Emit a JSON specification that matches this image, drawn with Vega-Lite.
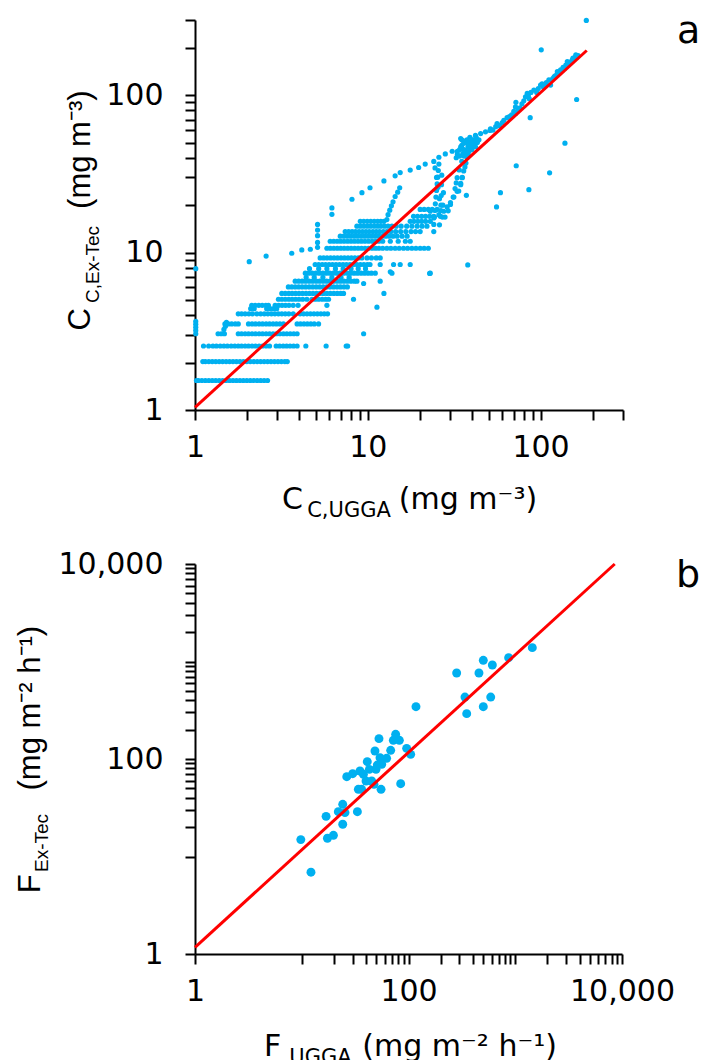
{
"$schema": "https://vega.github.io/schema/vega-lite/v6.json",
"padding": {"left": 14, "top": 5, "right": 0, "bottom": 0},
"bounds": "flush",
"spacing": 154,
"config": {
  "view": {"stroke": null},
  "font": "DejaVu Sans",
  "axis": {"labelFont": "DejaVu Sans", "labelFontSize": 30, "labelColor": "#000", "labelOverlap": false, "labelFlush": false, "tickSize": 10, "tickWidth": 2, "tickColor": "#000", "domainColor": "#000", "domainWidth": 2, "grid": false, "titleFontWeight": "normal", "titleColor": "#000", "titleAlign": "center", "titleBaseline": "alphabetic"},
  "axisX": {"labelPadding": 12, "titleFont": "DejaVu Sans", "titleAngle": 0},
  "axisY": {"labelPadding": 22, "titleFont": "Liberation Sans", "titleAngle": 270}
},
"datasets": {
"a": [
{"x":1.02,"y":1.54},{"x":1.047,"y":1.54},{"x":1.096,"y":1.54},{"x":1.148,"y":1.54},{"x":1.202,"y":1.54},{"x":1.259,"y":1.54},{"x":1.318,"y":1.54},{"x":1.38,"y":1.54},{"x":1.445,"y":1.54},{"x":1.514,"y":1.54},{"x":1.585,"y":1.54},{"x":1.66,"y":1.54},{"x":1.738,"y":1.54},{"x":1.82,"y":1.54},{"x":1.905,"y":1.54},{"x":1.995,"y":1.54},{"x":2.089,"y":1.54},{"x":2.188,"y":1.54},{"x":2.291,"y":1.54},{"x":2.399,"y":1.54},{"x":2.512,"y":1.54},{"x":2.63,"y":1.54},
{"x":1.11,"y":2.03},{"x":1.148,"y":2.03},{"x":1.202,"y":2.03},{"x":1.259,"y":2.03},{"x":1.318,"y":2.03},{"x":1.38,"y":2.03},{"x":1.445,"y":2.03},{"x":1.514,"y":2.03},{"x":1.585,"y":2.03},{"x":1.66,"y":2.03},{"x":1.738,"y":2.03},{"x":1.82,"y":2.03},{"x":1.905,"y":2.03},{"x":1.995,"y":2.03},{"x":2.089,"y":2.03},{"x":2.188,"y":2.03},{"x":2.291,"y":2.03},{"x":2.399,"y":2.03},{"x":2.512,"y":2.03},{"x":2.63,"y":2.03},{"x":2.754,"y":2.03},{"x":2.884,"y":2.03},{"x":3.02,"y":2.03},{"x":3.162,"y":2.03},{"x":3.311,"y":2.03},{"x":3.42,"y":2.03},
{"x":1.12,"y":2.55},{"x":1.2,"y":2.55},{"x":1.27,"y":2.55},{"x":1.33,"y":2.55},{"x":1.4,"y":2.55},{"x":1.47,"y":2.55},{"x":1.54,"y":2.55},{"x":1.62,"y":2.55},{"x":1.7,"y":2.55},{"x":1.78,"y":2.55},{"x":1.86,"y":2.55},{"x":1.95,"y":2.55},{"x":2.04,"y":2.55},{"x":2.14,"y":2.55},{"x":2.24,"y":2.55},{"x":2.35,"y":2.55},{"x":2.46,"y":2.55},{"x":2.58,"y":2.55},{"x":2.7,"y":2.55},{"x":2.95,"y":2.55},{"x":3.09,"y":2.55},{"x":3.24,"y":2.55},{"x":3.39,"y":2.55},{"x":3.55,"y":2.55},{"x":3.72,"y":2.55},{"x":3.9,"y":2.55},{"x":4.38,"y":2.55},{"x":5.74,"y":2.55},{"x":7.5,"y":2.55},{"x":7.65,"y":2.55},
{"x":1.36,"y":3.05},{"x":1.42,"y":3.05},{"x":1.48,"y":3.05},{"x":1.78,"y":3.05},{"x":1.86,"y":3.05},{"x":1.95,"y":3.05},{"x":2.04,"y":3.05},{"x":2.14,"y":3.05},{"x":2.24,"y":3.05},{"x":2.35,"y":3.05},{"x":2.46,"y":3.05},{"x":2.58,"y":3.05},{"x":2.7,"y":3.05},{"x":2.83,"y":3.05},{"x":2.96,"y":3.05},{"x":3.1,"y":3.05},{"x":3.25,"y":3.05},{"x":3.4,"y":3.05},{"x":3.56,"y":3.05},{"x":3.73,"y":3.05},{"x":3.9,"y":3.05},{"x":9.46,"y":3.05},
{"x":1.47,"y":3.25},{"x":1.5,"y":3.4},{"x":1.52,"y":3.6},{"x":1.01,"y":3.05},{"x":1.01,"y":3.2},{"x":1.01,"y":3.35},{"x":1.01,"y":3.5},{"x":1.01,"y":3.65},{"x":1.01,"y":7.9},
{"x":1.49,"y":3.52},{"x":1.56,"y":3.52},{"x":1.63,"y":3.52},{"x":1.71,"y":3.52},{"x":1.78,"y":3.52},{"x":2.04,"y":3.52},{"x":2.14,"y":3.52},{"x":2.24,"y":3.52},{"x":2.35,"y":3.52},{"x":2.46,"y":3.52},{"x":2.58,"y":3.52},{"x":2.7,"y":3.52},{"x":2.83,"y":3.52},{"x":2.96,"y":3.52},{"x":3.1,"y":3.52},{"x":3.25,"y":3.52},{"x":3.9,"y":3.52},{"x":4.08,"y":3.52},{"x":4.27,"y":3.52},{"x":4.47,"y":3.52},{"x":4.68,"y":3.52},{"x":4.9,"y":3.52},{"x":5.19,"y":3.52},
{"x":1.78,"y":4.08},{"x":1.86,"y":4.08},{"x":1.95,"y":4.08},{"x":2.05,"y":4.08},{"x":2.15,"y":4.08},{"x":2.28,"y":4.08},{"x":2.4,"y":4.08},{"x":2.52,"y":4.08},{"x":2.64,"y":4.08},{"x":2.77,"y":4.08},{"x":2.9,"y":4.08},{"x":3.04,"y":4.08},{"x":3.18,"y":4.08},{"x":3.33,"y":4.08},{"x":3.49,"y":4.08},{"x":3.7,"y":4.08},{"x":4.06,"y":4.08},{"x":4.25,"y":4.08},{"x":4.45,"y":4.08},{"x":4.66,"y":4.08},{"x":4.88,"y":4.08},{"x":5.11,"y":4.08},{"x":5.35,"y":4.08},{"x":5.6,"y":4.08},{"x":5.85,"y":4.08},
{"x":2.1,"y":4.4},{"x":2.2,"y":4.4},{"x":2.6,"y":4.4},{"x":2.72,"y":4.4},{"x":2.85,"y":4.4},{"x":2.97,"y":4.4},
{"x":2.13,"y":4.62},{"x":2.23,"y":4.62},{"x":2.34,"y":4.62},{"x":2.45,"y":4.62},{"x":2.57,"y":4.62},{"x":2.66,"y":4.62},{"x":2.91,"y":4.62},{"x":3.05,"y":4.62},{"x":3.19,"y":4.62},{"x":3.34,"y":4.62},{"x":3.5,"y":4.62},{"x":3.7,"y":4.62},{"x":3.95,"y":4.62},{"x":5.8,"y":4.62},{"x":11.3,"y":4.5},
{"x":3.04,"y":5.05},{"x":3.18,"y":5.05},{"x":3.33,"y":5.05},{"x":3.49,"y":5.05},{"x":3.65,"y":5.05},{"x":3.82,"y":5.05},{"x":4.0,"y":5.05},{"x":4.2,"y":5.05},{"x":4.44,"y":5.05},{"x":4.75,"y":5.05},{"x":4.97,"y":5.05},{"x":5.2,"y":5.05},{"x":5.45,"y":5.05},{"x":5.7,"y":5.05},{"x":5.93,"y":5.05},{"x":8.27,"y":5.05},
{"x":3.18,"y":5.5},{"x":3.33,"y":5.5},{"x":3.49,"y":5.5},{"x":3.65,"y":5.5},{"x":3.82,"y":5.5},{"x":4.0,"y":5.5},{"x":4.19,"y":5.5},{"x":4.39,"y":5.5},{"x":4.6,"y":5.5},{"x":4.82,"y":5.5},{"x":5.05,"y":5.5},{"x":5.29,"y":5.5},{"x":5.54,"y":5.5},{"x":5.8,"y":5.5},{"x":6.07,"y":5.5},{"x":6.36,"y":5.5},{"x":6.66,"y":5.5},{"x":6.97,"y":5.5},{"x":7.24,"y":5.5},{"x":12.4,"y":5.5},
{"x":3.47,"y":6.05},{"x":3.63,"y":6.05},{"x":3.8,"y":6.05},{"x":3.98,"y":6.05},{"x":4.17,"y":6.05},{"x":4.37,"y":6.05},{"x":4.58,"y":6.05},{"x":4.8,"y":6.05},{"x":5.03,"y":6.05},{"x":5.27,"y":6.05},{"x":5.52,"y":6.05},{"x":5.78,"y":6.05},{"x":6.05,"y":6.05},{"x":6.34,"y":6.05},{"x":6.64,"y":6.05},{"x":6.95,"y":6.05},{"x":7.28,"y":6.05},{"x":7.62,"y":6.05},
{"x":3.8,"y":6.58},{"x":3.98,"y":6.58},{"x":4.17,"y":6.58},{"x":4.37,"y":6.58},{"x":4.58,"y":6.58},{"x":4.8,"y":6.58},{"x":5.03,"y":6.58},{"x":5.27,"y":6.58},{"x":5.52,"y":6.58},{"x":5.78,"y":6.58},{"x":6.05,"y":6.58},{"x":6.34,"y":6.58},{"x":6.64,"y":6.58},{"x":6.95,"y":6.58},{"x":7.28,"y":6.58},{"x":7.62,"y":6.58},{"x":7.98,"y":6.58},{"x":8.36,"y":6.58},{"x":8.65,"y":6.58},{"x":11.8,"y":6.58},
{"x":4.4,"y":6.95},{"x":4.9,"y":6.95},{"x":5.5,"y":6.95},{"x":6.2,"y":6.95},{"x":7.0,"y":6.95},{"x":7.8,"y":6.95},
{"x":4.35,"y":7.4},{"x":4.55,"y":7.4},{"x":4.77,"y":7.4},{"x":5.0,"y":7.4},{"x":5.24,"y":7.4},{"x":5.49,"y":7.4},{"x":5.75,"y":7.4},{"x":6.02,"y":7.4},{"x":6.31,"y":7.4},{"x":6.61,"y":7.4},{"x":6.92,"y":7.4},{"x":7.25,"y":7.4},{"x":7.6,"y":7.4},{"x":7.96,"y":7.4},{"x":8.34,"y":7.4},{"x":8.73,"y":7.4},{"x":9.15,"y":7.4},{"x":9.58,"y":7.4},{"x":10.04,"y":7.4},{"x":10.5,"y":7.4},{"x":11.05,"y":7.4},{"x":13.8,"y":7.4},{"x":23.0,"y":7.4},
{"x":4.6,"y":7.9},{"x":5.2,"y":7.9},{"x":5.8,"y":7.9},{"x":6.5,"y":7.9},{"x":7.2,"y":7.9},{"x":8.0,"y":7.9},{"x":8.8,"y":7.9},{"x":9.7,"y":7.9},
{"x":4.96,"y":8.4},{"x":5.2,"y":8.4},{"x":5.45,"y":8.4},{"x":5.7,"y":8.4},{"x":5.97,"y":8.4},{"x":6.25,"y":8.4},{"x":6.55,"y":8.4},{"x":6.86,"y":8.4},{"x":7.19,"y":8.4},{"x":7.53,"y":8.4},{"x":7.89,"y":8.4},{"x":8.26,"y":8.4},{"x":8.65,"y":8.4},{"x":9.06,"y":8.4},{"x":9.49,"y":8.4},{"x":9.94,"y":8.4},{"x":10.3,"y":8.4},{"x":11.8,"y":8.4},{"x":14.1,"y":8.4},{"x":15.4,"y":8.4},{"x":17.6,"y":8.4},{"x":37.9,"y":8.34},
{"x":5.3,"y":9.25},{"x":5.55,"y":9.25},{"x":5.81,"y":9.25},{"x":6.09,"y":9.25},{"x":6.38,"y":9.25},{"x":6.68,"y":9.25},{"x":7.0,"y":9.25},{"x":7.33,"y":9.25},{"x":7.68,"y":9.25},{"x":8.04,"y":9.25},{"x":8.42,"y":9.25},{"x":8.82,"y":9.25},{"x":9.24,"y":9.25},{"x":9.9,"y":9.25},{"x":10.5,"y":9.25},{"x":11.2,"y":9.25},{"x":11.8,"y":9.25},
{"x":5.8,"y":10.65},{"x":6.07,"y":10.65},{"x":6.36,"y":10.65},{"x":6.66,"y":10.65},{"x":6.97,"y":10.65},{"x":7.3,"y":10.65},{"x":7.65,"y":10.65},{"x":8.01,"y":10.65},{"x":8.39,"y":10.65},{"x":8.79,"y":10.65},{"x":9.2,"y":10.65},{"x":9.64,"y":10.65},{"x":10.1,"y":10.65},{"x":10.6,"y":10.65},{"x":11.1,"y":10.65},{"x":11.6,"y":10.65},{"x":12.2,"y":10.65},{"x":12.9,"y":10.65},{"x":13.6,"y":10.65},{"x":14.4,"y":10.65},{"x":15.2,"y":10.65},{"x":16.1,"y":10.65},{"x":17.0,"y":10.65},{"x":18.0,"y":10.65},{"x":19.0,"y":10.65},{"x":20.1,"y":10.65},{"x":21.2,"y":10.65},{"x":22.4,"y":10.65},
{"x":6.06,"y":11.8},{"x":6.35,"y":11.8},{"x":6.65,"y":11.8},{"x":6.96,"y":11.8},{"x":7.29,"y":11.8},{"x":7.64,"y":11.8},{"x":8.0,"y":11.8},{"x":8.38,"y":11.8},{"x":8.78,"y":11.8},{"x":9.19,"y":11.8},{"x":9.63,"y":11.8},{"x":10.1,"y":11.8},{"x":10.6,"y":11.8},{"x":11.1,"y":11.8},{"x":11.6,"y":11.8},{"x":12.2,"y":11.8},{"x":13.5,"y":11.8},{"x":15.0,"y":11.8},{"x":16.5,"y":11.8},{"x":17.6,"y":11.8},
{"x":6.93,"y":12.7},{"x":7.26,"y":12.7},{"x":7.6,"y":12.7},{"x":7.96,"y":12.7},{"x":8.34,"y":12.7},{"x":8.73,"y":12.7},{"x":9.15,"y":12.7},{"x":9.58,"y":12.7},{"x":10.03,"y":12.7},{"x":10.5,"y":12.7},{"x":11.0,"y":12.7},{"x":11.5,"y":12.7},{"x":12.1,"y":12.7},{"x":12.7,"y":12.7},{"x":13.3,"y":12.7},{"x":14.0,"y":12.7},{"x":14.8,"y":12.7},{"x":15.8,"y":12.7},{"x":16.9,"y":12.7},
{"x":7.4,"y":13.6},{"x":7.75,"y":13.6},{"x":8.12,"y":13.6},{"x":8.5,"y":13.6},{"x":8.9,"y":13.6},{"x":9.32,"y":13.6},{"x":9.76,"y":13.6},{"x":10.2,"y":13.6},{"x":10.7,"y":13.6},{"x":11.2,"y":13.6},{"x":11.7,"y":13.6},{"x":12.3,"y":13.6},{"x":12.9,"y":13.6},{"x":13.6,"y":13.6},{"x":14.5,"y":13.6},{"x":15.5,"y":13.6},{"x":16.6,"y":13.6},{"x":17.8,"y":13.6},{"x":18.9,"y":13.6},{"x":20.1,"y":13.6},
{"x":8.65,"y":14.7},{"x":9.06,"y":14.7},{"x":9.49,"y":14.7},{"x":9.94,"y":14.7},{"x":10.4,"y":14.7},{"x":10.9,"y":14.7},{"x":11.4,"y":14.7},{"x":11.9,"y":14.7},{"x":12.5,"y":14.7},{"x":13.1,"y":14.7},{"x":13.8,"y":14.7},{"x":14.6,"y":14.7},{"x":15.6,"y":14.7},{"x":16.8,"y":14.7},{"x":18.0,"y":14.7},{"x":19.3,"y":14.7},{"x":20.6,"y":14.7},{"x":22.0,"y":14.7},
{"x":9.05,"y":15.8},{"x":9.48,"y":15.8},{"x":9.93,"y":15.8},{"x":10.4,"y":15.8},{"x":10.9,"y":15.8},{"x":11.4,"y":15.8},{"x":11.9,"y":15.8},{"x":12.4,"y":15.8},{"x":17.6,"y":15.8},{"x":18.5,"y":15.8},{"x":19.5,"y":15.8},{"x":20.5,"y":15.8},{"x":21.6,"y":15.8},{"x":23.0,"y":15.8},
{"x":18.4,"y":17.0},{"x":19.4,"y":17.0},{"x":20.5,"y":17.0},{"x":21.6,"y":17.0},{"x":22.8,"y":17.0},{"x":24.1,"y":17.0},
{"x":20.1,"y":18.8},{"x":21.2,"y":18.8},{"x":22.4,"y":18.8},{"x":23.6,"y":18.8},{"x":25.2,"y":18.8},
{"x":5.12,"y":10.8},{"x":5.12,"y":11.6},{"x":5.12,"y":12.8},{"x":5.12,"y":13.9},{"x":5.12,"y":15.1},{"x":6.2,"y":17.5},{"x":6.2,"y":19.2},
{"x":3.63,"y":9.9},{"x":4.15,"y":10.4},{"x":4.65,"y":10.5},{"x":2.06,"y":8.75},{"x":2.58,"y":9.5},
{"x":12.9,"y":16.2},{"x":13.1,"y":17.4},{"x":13.4,"y":18.6},{"x":13.7,"y":19.8},{"x":14.0,"y":21.0},{"x":14.4,"y":22.7},{"x":14.9,"y":24.2},{"x":15.3,"y":25.8},
{"x":24.1,"y":15.1},{"x":24.3,"y":16.8},{"x":24.5,"y":18.5},{"x":24.6,"y":20.4},{"x":24.8,"y":22.5},{"x":25.0,"y":24.8},{"x":25.2,"y":27.3},{"x":25.4,"y":30.1},{"x":25.6,"y":33.2},{"x":25.8,"y":36.5},{"x":26.3,"y":17},{"x":26.5,"y":20},{"x":26.6,"y":23},{"x":26.7,"y":27},{"x":26.8,"y":31},
{"x":24.5,"y":34.5},{"x":25.0,"y":30},{"x":25.5,"y":26},{"x":26.0,"y":22},{"x":26.5,"y":18.5},{"x":27.0,"y":16.8},{"x":27.2,"y":20},{"x":27.4,"y":24},
{"x":24.1,"y":13.6},{"x":26.0,"y":15.0},{"x":28.0,"y":16.8},{"x":29.2,"y":18.4},{"x":30.1,"y":20.2},{"x":31.2,"y":22.5},{"x":32.0,"y":25.5},{"x":32.5,"y":27.7},{"x":32.9,"y":29.9},{"x":33.8,"y":33.5},{"x":35.0,"y":38},{"x":36.7,"y":44.4},
{"x":37.6,"y":40.2},{"x":36.5,"y":35},{"x":35.2,"y":29.9},{"x":34.5,"y":27},{"x":32.9,"y":24.5},{"x":31.5,"y":22.5},{"x":30.1,"y":20.8},{"x":28.8,"y":19.5},{"x":27.5,"y":18.3},{"x":25.8,"y":17.4},{"x":24.1,"y":16.6},
{"x":33.6,"y":24.6},{"x":34.5,"y":27.5},{"x":35.2,"y":30},{"x":35.9,"y":33},{"x":37.0,"y":37},{"x":38.2,"y":41.5},{"x":39.3,"y":46.6},
{"x":33,"y":42},{"x":34,"y":45},{"x":35,"y":48},{"x":36,"y":51},{"x":34.5,"y":53},{"x":37,"y":44},{"x":38,"y":47},{"x":39,"y":50},{"x":40,"y":52},{"x":41,"y":49},{"x":42,"y":47},{"x":36,"y":41},{"x":38,"y":43},{"x":40,"y":45},{"x":43,"y":50},{"x":35,"y":46},{"x":37,"y":50},{"x":39,"y":54},{"x":42,"y":55.5},{"x":45,"y":57},{"x":48,"y":58.5},{"x":51,"y":59.7},
{"x":32.5,"y":40},{"x":34,"y":41},{"x":35.5,"y":42.5},{"x":37,"y":43},{"x":38.5,"y":44},{"x":40,"y":46},{"x":41.5,"y":48},{"x":43,"y":50.5},{"x":44,"y":52},{"x":33,"y":44},{"x":34.5,"y":47},{"x":36,"y":49.5},{"x":37.5,"y":52},{"x":39,"y":48},{"x":41,"y":52},{"x":42.5,"y":53.5},{"x":36,"y":45},{"x":38,"y":50},{"x":40,"y":49},{"x":35,"y":52},
{"x":8.1,"y":21.8},{"x":9.25,"y":24},{"x":10.3,"y":25.8},{"x":12.4,"y":28.5},{"x":14.4,"y":30.7},{"x":15.4,"y":32.2},{"x":17.6,"y":33.4},{"x":19.7,"y":34.7},{"x":21.5,"y":36.5},{"x":24.1,"y":37.9},{"x":25.8,"y":40.3},{"x":28.1,"y":42.3},{"x":30.8,"y":44},
{"x":22.8,"y":7.37},{"x":37.2,"y":23.1},{"x":55.6,"y":19.5},{"x":58.6,"y":24},{"x":72.3,"y":35.6},{"x":85.6,"y":25.1},{"x":112.8,"y":32.1},{"x":138.4,"y":49.5},{"x":161.7,"y":93.8},{"x":87.1,"y":71.9},{"x":23,"y":18.3},{"x":100.9,"y":194},{"x":184,"y":298},{"x":13.5,"y":7.55},{"x":9.46,"y":6.36},
{"x":51.3,"y":61.1},{"x":55,"y":63},{"x":58,"y":64},{"x":61.3,"y":69.2},{"x":64,"y":72},{"x":68,"y":75},{"x":71.6,"y":76.4},{"x":71.6,"y":84.2},{"x":72,"y":90},{"x":74,"y":80},{"x":78,"y":88},{"x":81.8,"y":97.5},{"x":83.7,"y":102.5},{"x":86,"y":95},{"x":91.5,"y":107.7},{"x":95,"y":104},{"x":100,"y":115.9},{"x":104,"y":112},{"x":108,"y":120},{"x":111.7,"y":124.8},{"x":114.3,"y":115.9},{"x":118,"y":128},{"x":122,"y":133},{"x":125,"y":141},{"x":130.6,"y":144.6},{"x":135,"y":150},{"x":138,"y":148},{"x":142.8,"y":163.4},{"x":146,"y":158},{"x":152.7,"y":167.6},{"x":156,"y":170},{"x":159.6,"y":176},{"x":162,"y":174},
{"x":53,"y":60},{"x":56,"y":66},{"x":60,"y":67},{"x":66,"y":73},{"x":70,"y":79},{"x":76,"y":83},{"x":80,"y":92},{"x":85,"y":99},{"x":88,"y":104},{"x":97,"y":110},{"x":102,"y":118},{"x":106,"y":116},{"x":116,"y":125},{"x":120,"y":131},{"x":128,"y":139},{"x":133,"y":143},{"x":140,"y":155},{"x":148,"y":162},{"x":154,"y":172},{"x":160,"y":180},{"x":165,"y":178}
],
"aline": [{"x":1,"y":1.04},{"x":185,"y":192}],
"b": [
{"x":9.8,"y":14.9},{"x":12.2,"y":6.9},{"x":16.9,"y":25.8},{"x":17.4,"y":15.4},{"x":19.8,"y":16.5},{"x":22.0,"y":28.8},{"x":24.2,"y":34.3},{"x":24.2,"y":21.4},{"x":25.4,"y":28.2},{"x":26.4,"y":65.9},{"x":30.0,"y":70.7},{"x":33.2,"y":28.8},{"x":35.1,"y":75.3},{"x":36.4,"y":48.9},{"x":37.8,"y":69.6},{"x":40.0,"y":59.5},{"x":41.1,"y":93.9},{"x":43.0,"y":78.3},{"x":47.5,"y":55},{"x":48.5,"y":120.8},{"x":49.6,"y":78.3},{"x":52.9,"y":161.7},{"x":54.1,"y":103.2},{"x":55.3,"y":48.9},{"x":56.1,"y":88.2},{"x":62.4,"y":101.6},{"x":68.1,"y":122.7},{"x":72.1,"y":155.4},{"x":75.8,"y":179},{"x":82.1,"y":155.4},{"x":84.5,"y":55.8},{"x":96.1,"y":128.6},{"x":104.8,"y":111.6},{"x":117.5,"y":344},{"x":282.6,"y":762},{"x":338,"y":432},{"x":351,"y":292},{"x":457,"y":762},{"x":502,"y":1028},{"x":502,"y":344},{"x":589,"y":432},{"x":610,"y":920},{"x":867,"y":1094},{"x":1445,"y":1387},{"x":33.9,"y":48.9},{"x":45.2,"y":59.5},{"x":51,"y":86.7}
],
"bline": [{"x":1,"y":1.17},{"x":8550,"y":10000}]
},
"vconcat": [
{
  "width": 428, "height": 390,
  "title": {"text": "a", "orient": "top", "anchor": "end", "frame": "group", "align": "left", "baseline": "alphabetic", "offset": 0, "dx": 54, "dy": 76, "fontSize": 38, "font": "DejaVu Sans", "fontWeight": "normal", "color": "#000"},
  "layer": [
    {
      "data": {"name": "a"},
      "mark": {"type": "circle", "size": 27, "color": "#00B0F0", "opacity": 1},
      "encoding": {
        "x": {"field": "x", "type": "quantitative", "scale": {"type": "log", "domain": [1, 300], "nice": false},
              "axis": {"orient": "bottom", "values": [1,2,3,4,5,6,7,8,9,10,20,30,40,50,60,70,80,90,100,200,300], "format": ",", "labelExpr": "datum.value == 1 || datum.value == 10 || datum.value == 100 ? datum.label : ''",
                       "title": "C\u2003\u2003\u2003\u2009(mg m\u207b\u00b3)", "titleFontSize": 30, "titleX": 214, "titleY": 98}},
        "y": {"field": "y", "type": "quantitative", "scale": {"type": "log", "domain": [1, 300], "nice": false},
              "axis": {"orient": "left", "values": [1,2,3,4,5,6,7,8,9,10,20,30,40,50,60,70,80,90,100,200,300], "format": ",", "labelExpr": "datum.value == 1 || datum.value == 10 || datum.value == 100 ? datum.label : ''",
                       "title": "C\u2003\u2003\u2003\u2009(mg m\u207b\u00b3)", "titleFontSize": 31, "titleX": -106, "titleY": 190}}
      }
    },
    {
      "data": {"name": "aline"},
      "mark": {"type": "line", "color": "#FF0000", "strokeWidth": 3},
      "encoding": {
        "x": {"field": "x", "type": "quantitative", "scale": {"type": "log", "domain": [1, 300], "nice": false},
              "axis": {"orient": "bottom", "title": "C,UGGA", "labels": false, "ticks": false, "domain": false, "titleFontSize": 21, "titleX": 153.5, "titleY": 106}},
        "y": {"field": "y", "type": "quantitative", "scale": {"type": "log", "domain": [1, 300], "nice": false},
              "axis": {"orient": "left", "title": "C,Ex-Tec", "labels": false, "ticks": false, "domain": false, "titleFontSize": 19, "titleX": -97, "titleY": 244}}
      }
    }
  ],
  "resolve": {"axis": {"x": "independent", "y": "independent"}}
},
{
  "width": 427, "height": 390,
  "title": {"text": "b", "orient": "top", "anchor": "end", "frame": "group", "align": "left", "baseline": "alphabetic", "offset": 0, "dx": 54, "dy": 76, "fontSize": 38, "font": "DejaVu Sans", "fontWeight": "normal", "color": "#000"},
  "layer": [
    {
      "data": {"name": "b"},
      "mark": {"type": "circle", "size": 80, "color": "#00B0F0", "opacity": 1},
      "encoding": {
        "x": {"field": "x", "type": "quantitative", "scale": {"type": "log", "domain": [1, 10000], "nice": false},
              "axis": {"orient": "bottom", "values": [1,10,20,30,40,50,60,70,80,90,100,200,300,400,500,600,700,800,900,1000,2000,3000,4000,5000,6000,7000,8000,9000,10000], "format": ",", "labelExpr": "datum.value == 1 || datum.value == 100 || datum.value == 10000 ? datum.label : ''",
                       "title": "F\u2003\u2003\u2002\u2009(mg m\u207b\u00b2 h\u207b\u00b9)", "titleFontSize": 30, "titleX": 215, "titleY": 101}},
        "y": {"field": "y", "type": "quantitative", "scale": {"type": "log", "domain": [1, 10000], "nice": false},
              "axis": {"orient": "left", "values": [1,10,20,30,40,50,60,70,80,90,100,200,300,400,500,600,700,800,900,1000,2000,3000,4000,5000,6000,7000,8000,9000,10000], "format": ",", "labelExpr": "datum.value == 1 || datum.value == 100 || datum.value == 10000 ? datum.label : ''",
                       "title": "F\u2003\u2003\u2002\u2009(mg m\u207b\u00b2 h\u207b\u00b9)", "titleFontSize": 31, "titleX": -156, "titleY": 195}}
      }
    },
    {
      "data": {"name": "bline"},
      "mark": {"type": "line", "color": "#FF0000", "strokeWidth": 3},
      "encoding": {
        "x": {"field": "x", "type": "quantitative", "scale": {"type": "log", "domain": [1, 10000], "nice": false},
              "axis": {"orient": "bottom", "title": "UGGA", "labels": false, "ticks": false, "domain": false, "titleFontSize": 21, "titleX": 125, "titleY": 109}},
        "y": {"field": "y", "type": "quantitative", "scale": {"type": "log", "domain": [1, 10000], "nice": false},
              "axis": {"orient": "left", "title": "Ex-Tec", "labels": false, "ticks": false, "domain": false, "titleFontSize": 19, "titleX": -148, "titleY": 278.5}}
      }
    }
  ],
  "resolve": {"axis": {"x": "independent", "y": "independent"}}
}
]
}
